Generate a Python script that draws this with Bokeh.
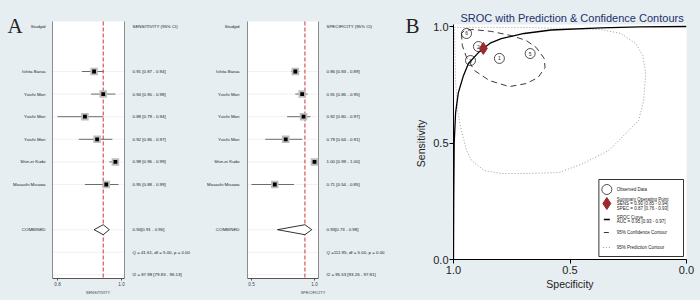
import math
from bokeh.plotting import figure
from bokeh.models import (Range1d, LinearAxis, FixedTicker, NumeralTickFormatter)
from bokeh.layouts import row
from bokeh.embed import file_html
from bokeh.resources import INLINE
from bokeh.core.properties import value

# ---------------- data ----------------
studies = ["Ishita Barua", "Yuichi Mori", "Yuichi Mori", "Yuichi Mori",
           "Shin-ei Kudo", "Masashi Misawa"]
sens_est = [0.91, 0.94, 0.88, 0.92, 0.98, 0.95]
sens_lo = [0.87, 0.90, 0.79, 0.86, 0.96, 0.88]
sens_hi = [0.94, 0.98, 0.94, 0.97, 0.99, 0.99]
sens_pooled = [0.94, 0.91, 0.96]
sens_q = "Q = 41.61, df = 5.00, p = 0.00"
sens_i2 = "I2 = 87.98 [79.83 - 96.13]"

spec_est = [0.86, 0.91, 0.92, 0.79, 1.00, 0.71]
spec_lo = [0.83, 0.86, 0.80, 0.64, 0.99, 0.54]
spec_hi = [0.89, 0.95, 0.97, 0.91, 1.00, 0.85]
spec_pooled = [0.93, 0.73, 0.98]
spec_q = "Q =111.95, df = 5.00, p = 0.00"
spec_i2 = "I2 = 95.53 [93.26 - 97.81]"

# SROC panel (specificity, sensitivity)
obs_spec = [0.944, 0.893, 0.927, 0.803, 0.671]
obs_sens = [0.970, 0.914, 0.854, 0.863, 0.884]
obs_id = ["6", "2", "3", "1", "5"]
summary_spec = [0.872]
summary_sens = [0.906]
curve_spec = [1.000, 0.999, 0.997, 0.991, 0.979, 0.957, 0.936, 0.893, 0.872,
              0.840, 0.795, 0.697, 0.581, 0.368, 0.200, 0.000]
curve_sens = [0.000, 0.250, 0.500, 0.630, 0.717, 0.790, 0.841, 0.888, 0.906,
              0.930, 0.948, 0.970, 0.985, 0.994, 0.998, 1.000]
conf_spec = [0.966, 0.962, 0.944, 0.910, 0.846, 0.761, 0.688, 0.637, 0.607,
             0.611, 0.645, 0.688, 0.752, 0.838, 0.915, 0.953, 0.966]
conf_sens = [0.970, 0.918, 0.867, 0.811, 0.768, 0.742, 0.755, 0.781, 0.824,
             0.863, 0.910, 0.940, 0.961, 0.979, 0.987, 0.983, 0.970]
pred_spec = [0.996, 0.688, 0.368, 0.282, 0.218, 0.188, 0.175, 0.184, 0.205,
             0.261, 0.333, 0.444, 0.547, 0.688, 0.795, 0.868, 0.923, 0.944,
             0.966, 0.983, 0.991, 0.996]
pred_sens = [0.996, 0.996, 0.987, 0.970, 0.927, 0.876, 0.798, 0.682, 0.597,
             0.541, 0.468, 0.412, 0.373, 0.369, 0.369, 0.382, 0.425, 0.468,
             0.554, 0.639, 0.768, 0.996]
legend_labels = [["Observed Data"],
                 ["Summary Operating Point", "SENS = 0.90 [0.85 - 0.94]",
                  "SPEC = 0.87 [0.76 - 0.93]"],
                 ["SROC Curve", "AUC = 0.95 [0.93 - 0.97]"],
                 ["95% Confidence Contour"],
                 ["95% Prediction Contour"]]

# ---------------- style ----------------
BG = "#e6eef1"
NAVY = "#232f6b"
SANS = value("Liberation Sans")
SERIF = value("Liberation Serif")
FS = value("4.4px")


def forest(width, white_l, white_r, tick_lo_px, tick_hi_px, name_px, txt_px,
           est, lo, hi, pooled, q_text, i2_text, header, axis_title,
           letter=None, extra=None):
    lo_min = min(lo)
    ppu = (tick_hi_px - tick_lo_px) / (1.0 - lo_min)
    x0 = lo_min - tick_lo_px / ppu

    def xd(px):
        return x0 + px / ppu

    H = 278
    ROW0, DY = 71.0, 22.6

    def yd(py):
        return (py - ROW0) / DY

    p = figure(width=width, height=300, output_backend="svg", toolbar_location=None,
               x_range=Range1d(x0, x0 + width / ppu), y_range=Range1d(yd(H), yd(0)),
               x_axis_type=None, y_axis_type=None, frame_align=False, margin=0,
               min_border_left=0, min_border_right=0, min_border_top=0,
               min_border_bottom=300 - H,
               background_fill_color=BG, border_fill_color=BG, outline_line_color=None)
    n = len(est)
    rows = list(range(n))
    comb_row, q_row, i2_row = n + 1, n + 2, n + 3
    top_y, bot_y = yd(21), yd(H)
    p.quad(left=[xd(white_l)], right=[xd(white_r)], top=[top_y], bottom=[bot_y],
           fill_color="white", line_color=None)
    grid_rows = rows + [comb_row, q_row, i2_row]
    p.segment(x0=[xd(white_l)] * len(grid_rows), x1=[xd(white_r)] * len(grid_rows),
              y0=grid_rows, y1=grid_rows, line_color="#ebebeb", line_width=0.7)
    p.segment(x0=[xd(white_l), xd(white_r)], x1=[xd(white_l), xd(white_r)],
              y0=[top_y, top_y], y1=[bot_y, bot_y], line_color="#8c8c8c", line_width=1)
    p.segment(x0=[pooled[0]], x1=[pooled[0]], y0=[top_y], y1=[bot_y],
              line_color="#d0454c", line_dash="4 2", line_width=1.1)
    p.segment(x0=lo, x1=hi, y0=rows, y1=rows, line_color="#4a4a4a", line_width=0.8)
    p.scatter(est, rows, marker="square", size=7.5, fill_color="#bdbdbd", line_color=None)
    p.scatter(est, rows, marker="square", size=3.8, fill_color="black", line_color=None)
    pe, pl, ph = pooled
    p.patch([pl, pe, ph, pe], [comb_row, comb_row - 0.22, comb_row, comb_row + 0.22],
            fill_color="white", line_color="black", line_width=0.8)

    names = ["Studyid"] + studies + ["COMBINED"]
    ny = [-2] + rows + [comb_row]
    p.text([xd(name_px)] * len(names), ny, text=names, text_align="right",
           text_baseline="middle", text_font=SANS, text_font_size=FS, text_color="#222")
    vals = [header] + [f"{e:.2f} [{l:.2f} - {h:.2f}]" for e, l, h in zip(est, lo, hi)] + \
           [f"{pe:.2f}[{pl:.2f} - {ph:.2f}]", q_text, i2_text]
    vy = [-2] + rows + [comb_row, q_row, i2_row]
    p.text([xd(txt_px)] * len(vals), vy, text=vals, text_align="left",
           text_baseline="middle", text_font=SANS, text_font_size=FS, text_color="#222")
    if letter:
        lx, lt = letter
        p.text([xd(lx)], [yd(25)], text=[lt], text_align="left",
               text_baseline="alphabetic", text_font=SERIF,
               text_font_size=value("21px"), text_color="#222")
    if extra:
        ex, ey, et = extra
        p.text([xd(ex)], [yd(ey)], text=[et], angle=math.pi / 2, text_align="center",
               text_baseline="middle", text_font=SANS,
               text_font_size=value("10.5px"), text_color="#222")

    ax = LinearAxis(ticker=FixedTicker(ticks=[lo_min, 1.0]),
                    formatter=NumeralTickFormatter(format="0.0"),
                    bounds=(xd(white_l), xd(white_r)), axis_label=axis_title)
    ax.axis_line_color = "#555"
    ax.major_tick_line_color = "#555"
    ax.major_tick_out = 2
    ax.major_tick_in = 0
    ax.minor_tick_line_color = None
    ax.major_label_text_font = "Liberation Sans"
    ax.major_label_text_font_size = "4.6px"
    ax.major_label_standoff = 1
    ax.axis_label_text_font = "Liberation Sans"
    ax.axis_label_text_font_size = "4px"
    ax.axis_label_text_font_style = "normal"
    ax.axis_label_standoff = 1
    p.add_layout(ax, "below")
    return p


p1 = forest(195, 52, 124, 57, 121, 45, 132, sens_est, sens_lo, sens_hi, sens_pooled,
            sens_q, sens_i2, "SENSITIVITY (95% CI)", "SENSITIVITY", letter=(7, "A"))
# panel A2 also carries the "B" tag and the SROC y-axis title (left of panel B)
p2 = forest(235, 52, 123, 56, 119, 44, 131, spec_est, spec_lo, spec_hi, spec_pooled,
            spec_q, spec_i2, "SPECIFICITY (95% CI)", "SPECIFICITY",
            letter=(210, "B"), extra=(225, 143, "Sensitivity"))

# ---------------- SROC panel ----------------
PX_L, PX_R, PY_T, PY_B = 452.0, 686.0, 26.0, 259.0


def sx(px):
    return 1.0 - (px - PX_L) / (PX_R - PX_L)


def sy(py):
    return 1.0 - (py - PY_T) / (PY_B - PY_T)


pb = figure(width=270, height=300, output_backend="svg", toolbar_location=None,
            x_range=Range1d(1.0, 0.0), y_range=Range1d(0.0, sy(24)),
            x_axis_type=None, y_axis_type=None, frame_align=False, margin=0,
            min_border_left=22, min_border_right=14, min_border_top=24, min_border_bottom=41,
            background_fill_color="white", border_fill_color=BG, outline_line_color=None,
            title="SROC with Prediction & Confidence Contours")
pb.title.align = "left"
pb.title.offset = 7
pb.title.text_font = "Liberation Sans"
pb.title.text_font_size = "11px"
pb.title.text_font_style = "normal"
pb.title.text_color = NAVY
pb.title.standoff = 1

for side, lab in (("left", None), ("below", "Specificity")):
    a = LinearAxis(ticker=FixedTicker(ticks=[0.0, 0.5, 1.0]),
                   formatter=NumeralTickFormatter(format="0.0"), axis_label=lab)
    a.axis_line_color = "black"
    a.major_tick_line_color = "black"
    a.major_tick_out = 4
    a.major_tick_in = 0
    a.minor_tick_line_color = None
    a.major_label_text_font = "Liberation Sans"
    a.major_label_text_font_size = "11px"
    a.major_label_text_color = "#222"
    a.major_label_standoff = 1 if side == "left" else 2
    a.axis_label_text_font = "Liberation Sans"
    a.axis_label_text_font_size = "10.5px"
    a.axis_label_text_font_style = "normal"
    a.axis_label_text_color = "#222"
    a.axis_label_standoff = 1
    pb.add_layout(a, side)

pb.line(pred_spec, pred_sens, line_color="#9a9a9a", line_dash="1 2", line_width=1)
pb.line(conf_spec, conf_sens, line_color="#222", line_dash="6 4", line_width=0.9)
pb.line(curve_spec, curve_sens, line_color="black", line_width=1.3)
pb.scatter(obs_spec, obs_sens, marker="circle", size=10, fill_alpha=0,
           line_color="#222", line_width=0.8)
pb.text(obs_spec, obs_sens, text=obs_id, text_align="center", text_baseline="middle",
        text_font=SANS, text_font_size=value("5px"), text_color="#222")
pb.scatter(summary_spec, summary_sens, marker="diamond", size=12,
           fill_color="#9b2a2e", line_color="#9b2a2e")

# legend box
pb.quad(left=[sx(598)], right=[sx(683)], top=[sy(179)], bottom=[sy(256)],
        fill_color="white", line_color="black", line_width=0.8)
gx = sx(606)
pb.scatter([gx], [sy(189)], marker="circle", size=10, fill_alpha=0,
           line_color="#222", line_width=0.8)
pb.scatter([gx], [sy(203)], marker="diamond", size=12, fill_color="#9b2a2e",
           line_color="#9b2a2e")
pb.segment(x0=[sx(603)], x1=[sx(609)], y0=[sy(219)], y1=[sy(219)],
           line_color="black", line_width=1.3)
pb.segment(x0=[sx(603)], x1=[sx(608)], y0=[sy(232)], y1=[sy(232)],
           line_color="#222", line_width=0.9)
pb.segment(x0=[sx(602)], x1=[sx(610)], y0=[sy(247)], y1=[sy(247)],
           line_color="#9a9a9a", line_dash="1 2", line_width=1)
entry_y = [[189], [198.6, 203.4, 208.2], [216.8, 221.4], [232], [246.8]]
lt, ly = [], []
for labs, ys in zip(legend_labels, entry_y):
    for t, y in zip(labs, ys):
        lt.append(t)
        ly.append(sy(y))
pb.text([sx(616)] * len(lt), ly, text=lt, text_align="left", text_baseline="middle",
        text_font=SANS, text_font_size=value("4.5px"), text_color="#222")

layout = row(p1, p2, pb, spacing=0, margin=0, styles={"background-color": BG})
open("out.html", "w").write(file_html(layout, INLINE))
